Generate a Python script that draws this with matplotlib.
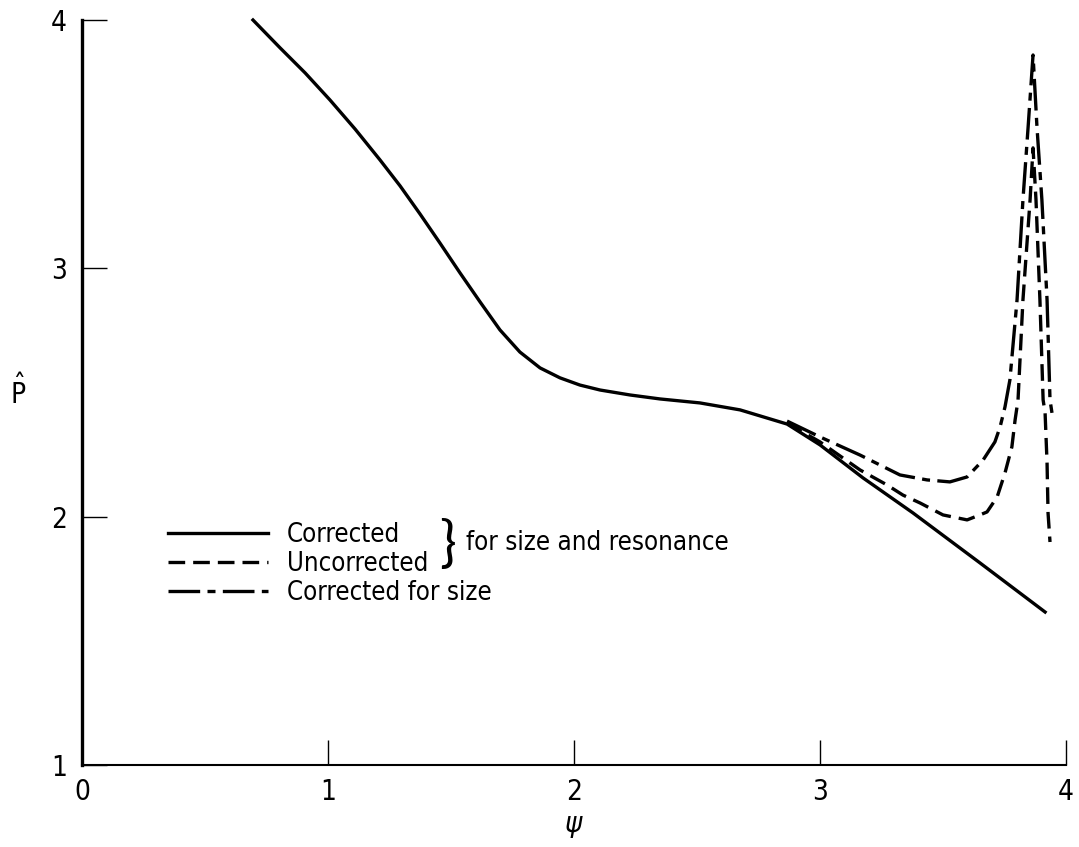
import matplotlib
matplotlib.use("Agg")
import matplotlib.pyplot as plt
from matplotlib import font_manager

# values
psi_corr = [0.695, 0.805, 0.907, 1.008, 1.110, 1.211, 1.293, 1.374, 1.455, 1.537, 1.618,
            1.699, 1.780, 1.862, 1.943, 2.024, 2.106, 2.228, 2.350, 2.512, 2.675, 2.866,
            3.000, 3.175, 3.378, 3.650, 3.915]
p_corr = [4.000, 3.888, 3.787, 3.678, 3.561, 3.437, 3.332, 3.219, 3.102, 2.981, 2.865,
          2.752, 2.663, 2.599, 2.559, 2.530, 2.510, 2.490, 2.474, 2.458, 2.430, 2.373,
          2.289, 2.156, 2.015, 1.814, 1.616]

psi_unc = [2.866, 3.000, 3.163, 3.272, 3.337, 3.407, 3.500, 3.598, 3.650, 3.679, 3.720,
           3.752, 3.780, 3.793, 3.805, 3.825, 3.854, 3.866, 3.878, 3.894, 3.907, 3.915,
           3.923, 3.927, 3.935]
p_unc = [2.377, 2.301, 2.188, 2.128, 2.087, 2.055, 2.007, 1.987, 2.007, 2.019, 2.079,
         2.176, 2.281, 2.389, 2.470, 2.873, 3.276, 3.485, 3.276, 2.873, 2.470, 2.418,
         2.216, 2.015, 1.898]

psi_size = [2.866, 3.000, 3.163, 3.325, 3.435, 3.528, 3.598, 3.663, 3.711, 3.732, 3.752,
            3.772, 3.801, 3.825, 3.846, 3.866, 3.882, 3.902, 3.923, 3.935, 3.943]
p_size = [2.385, 2.321, 2.248, 2.168, 2.148, 2.140, 2.160, 2.228, 2.301, 2.361, 2.442,
          2.551, 2.873, 3.276, 3.569, 3.859, 3.569, 3.276, 2.873, 2.470, 2.418]

legend_labels = ["Corrected", "Uncorrected", "Corrected for size"]
group_label = "for size and resonance"
x_ticks = [0, 1, 2, 3, 4]
y_ticks = [1, 2, 3, 4]

# look for a narrow sans face, otherwise DejaVu Sans
fam, stretch, fs, lfs = "DejaVu Sans", "normal", 17, 16
for f in font_manager.fontManager.ttflist:
    tag = (f.name + " " + f.fname).lower()
    if ("condensed" in tag or "narrow" in tag) and f.style == "normal" \
            and f.weight in (400, "normal", "regular") and "mono" not in tag \
            and "serif" not in tag.replace("sans", ""):
        fam, stretch, fs, lfs = f.name, f.stretch, 20, 18.5
        break
plt.rcParams["font.family"] = [fam, "DejaVu Sans"]
plt.rcParams["font.stretch"] = stretch
plt.rcParams["mathtext.fontset"] = "dejavusans"

fig = plt.figure(figsize=(10.79, 8.47), dpi=100)
ax = fig.add_axes([82 / 1079, 1 - 765 / 847, 984 / 1079, 745 / 847])

lw = 2.4
l1, = ax.plot(psi_corr, p_corr, color="black", lw=lw, clip_on=False,
              solid_joinstyle="round")
l2, = ax.plot(psi_unc, p_unc, color="black", lw=lw, linestyle=(0, (5.0, 2.4)),
              clip_on=False)
l3, = ax.plot(psi_size, p_size, color="black", lw=lw,
              linestyle=(0, (9.5, 2.2, 2.4, 2.2)), clip_on=False)

ax.set_xlim(0, 4)
ax.set_ylim(1, 4)
ax.set_xticks(x_ticks)
ax.set_yticks(y_ticks)
ax.spines["top"].set_visible(False)
ax.spines["right"].set_visible(False)
ax.spines["left"].set_linewidth(2.4)
ax.spines["bottom"].set_linewidth(1.5)
ax.tick_params(direction="in", length=18, width=1.0, labelsize=fs)
ax.tick_params(axis="x", pad=9)
ax.tick_params(axis="y", pad=11)

ax.set_xlabel(r"$\psi$", fontsize=fs + 1)
ax.xaxis.set_label_coords(0.5, -0.063)
ax.set_ylabel(r"$\hat{\mathrm{P}}$", fontsize=fs, rotation=0, va="center", ha="center")
ax.yaxis.set_label_coords(-0.065, 0.5)

ax.legend([l1, l2, l3], legend_labels, loc="upper left",
          bbox_to_anchor=(0.0874, 0.326), frameon=False, fontsize=lfs,
          handlelength=3.9, handletextpad=0.74, labelspacing=0.11,
          borderpad=0, borderaxespad=0)
ax.text(0.371, 0.295, "}", transform=ax.transAxes, fontsize=40,
        ha="center", va="center", family=["Lato", "DejaVu Sans"], fontweight="normal",
        stretch="normal")
ax.text(0.390, 0.298, group_label, transform=ax.transAxes, fontsize=lfs,
        ha="left", va="center")

fig.savefig("out.png", dpi=100)
